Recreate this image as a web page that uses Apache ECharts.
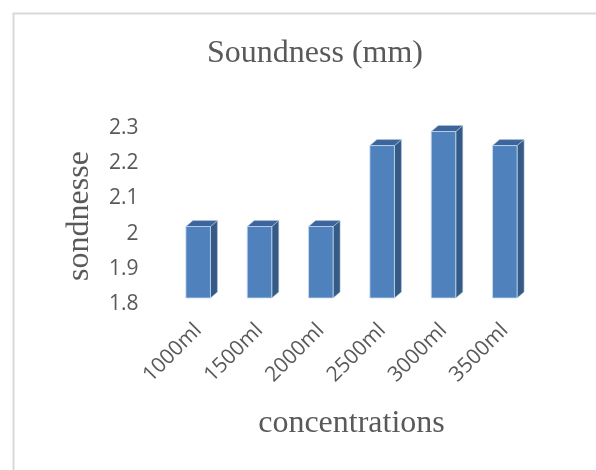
<!DOCTYPE html>
<html>
<head>
<meta charset="utf-8">
<script src="https://cdn.jsdelivr.net/npm/echarts@6/dist/echarts.min.js"></script>
<style>html,body{margin:0;padding:0;background:#fff;}#c{width:596px;height:470px;}</style>
</head>
<body>
<div id="c"></div>
<script>
var categories = ['1000ml', '1500ml', '2000ml', '2500ml', '3000ml', '3500ml'];
var soundness = [2.02, 2.02, 2.02, 2.25, 2.29, 2.25];
var yTicks = { min: 1.8, max: 2.3, interval: 0.1 };

var chart = echarts.init(document.getElementById('c'));

function renderBar(params, api) {
  var idx = api.value(0);
  var val = api.value(1);
  var top = api.coord([idx, val]);
  var base = api.coord([idx, yTicks.min]);
  var band = api.size([1, 0])[0];
  var w = band * 0.40;
  var dx = 7, dy = 6, floor = 6;
  var x0 = top[0] - w / 2, x1 = top[0] + w / 2;
  var yt = top[1], yb = base[1] - floor;
  return {
    type: 'group',
    children: [
      { type: 'polygon', shape: { points: [[x1, yt], [x1 + dx, yt - dy], [x1 + dx, yb - dy], [x1, yb]] },
        style: { fill: '#355a86', stroke: '#b8cce4', lineWidth: 0.5 } },
      { type: 'polygon', shape: { points: [[x0, yt], [x0 + dx, yt - dy], [x1 + dx, yt - dy], [x1, yt]] },
        style: { fill: '#3d659b', stroke: '#b8cce4', lineWidth: 0.5 } },
      { type: 'rect', shape: { x: x0, y: yt, width: w, height: yb - yt },
        style: { fill: '#4f81bd', stroke: '#c6d9f1', lineWidth: 0.8 } }
    ]
  };
}

chart.setOption({
  animation: false,
  backgroundColor: '#ffffff',
  title: {
    text: 'Soundness (mm)',
    left: 310, top: 33, textAlign: 'center',
    textStyle: { fontFamily: 'Liberation Serif', fontSize: 32, fontWeight: 'normal', color: '#595959' }
  },
  graphic: [
    { type: 'rect', shape: { x: 13.5, y: 13.5, width: 700, height: 600 },
      style: { fill: 'none', stroke: '#d9d9d9', lineWidth: 2 }, silent: true }
  ],
  grid: { left: 167.5, right: 60.5, top: 128, bottom: 166 },
  xAxis: {
    type: 'category',
    data: categories,
    name: 'concentrations',
    nameLocation: 'middle',
    nameGap: 104,
    nameTextStyle: { fontFamily: 'Liberation Serif', fontSize: 32, color: '#595959' },
    axisLine: { show: false },
    axisTick: { show: false },
    axisLabel: { rotate: 45, margin: 23, fontFamily: 'Open Sans', fontSize: 21, color: '#595959', interval: 0 }
  },
  yAxis: {
    type: 'value',
    min: yTicks.min, max: yTicks.max, interval: yTicks.interval,
    name: 'sondnesse',
    nameLocation: 'middle',
    nameGap: 72,
    nameTextStyle: { fontFamily: 'Liberation Serif', fontSize: 32, color: '#595959' },
    axisLine: { show: false },
    axisTick: { show: false },
    splitLine: { show: false },
    axisLabel: { margin: 29, fontFamily: 'Open Sans', fontSize: 21, color: '#595959',
      formatter: function (v) { return String(Math.round(v * 10) / 10); } }
  },
  series: [{
    type: 'custom',
    renderItem: renderBar,
    encode: { x: 0, y: 1 },
    data: soundness.map(function (v, i) { return [i, v]; })
  }]
});
</script>
</body>
</html>
